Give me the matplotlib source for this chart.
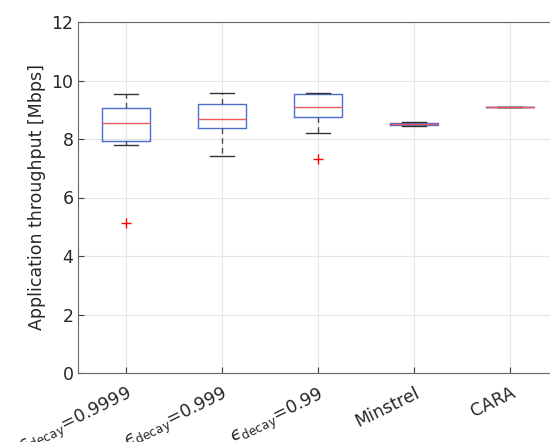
import numpy as np
import matplotlib
matplotlib.use('Agg')
import matplotlib.pyplot as plt
import matplotlib.transforms as mtransforms

plt.rcParams['mathtext.fontset'] = 'dejavusans'

#######################################################
# Box statistics
labels = ['$\u03f5_{\\mathrm{decay}}$=0.9999', '$\u03f5_{\\mathrm{decay}}$=0.999',
          '$\u03f5_{\\mathrm{decay}}$=0.99', 'Minstrel', 'CARA']
whislo = [7.78, 7.42, 8.19, 8.43, 9.09]
q1 = [7.93, 8.37, 8.74, 8.47, 9.09]
med = [8.54, 8.67, 9.08, 8.51, 9.10]
q3 = [9.05, 9.19, 9.54, 8.55, 9.11]
whishi = [9.54, 9.56, 9.56, 8.58, 9.11]
fliers = [[5.14], [], [7.32], [], []]

stats = []
for i in range(len(labels)):
	stats.append(dict(whislo=whislo[i], q1=q1[i], med=med[i], q3=q3[i],
		whishi=whishi[i], fliers=fliers[i], label=labels[i]))

#######################################################
# Plot
fig = plt.figure(figsize=(5.5, 4.42), dpi=100)
ax = fig.add_axes([78.3/550, 1-373/442, (558-78.3)/550, (373-22)/442])

ax.bxp(stats, positions=np.arange(1, 6), widths=0.5, capwidths=0.25,
	boxprops=dict(color=(0.3, 0.43, 0.8), linewidth=1.0),
	medianprops=dict(color=(0.95, 0.35, 0.35), linewidth=1.0),
	whiskerprops=dict(color=(0.3, 0.3, 0.3), linestyle=(0, (4, 3)), linewidth=1.0),
	capprops=dict(color=(0.2, 0.2, 0.2), linewidth=1.0),
	flierprops=dict(marker='+', markeredgecolor='red', markersize=7, linestyle='none'))

ax.set_xlim(0.5, 5.5)
ax.set_ylim(0, 12)
ax.set_yticks(np.arange(0, 13, 2))
ax.set_xticks(np.arange(1, 6))
ax.set_xticklabels(labels, rotation=26, ha='right', va='top', rotation_mode='anchor', fontsize=12.5)
offset = mtransforms.ScaledTranslation(6/100, 0, fig.dpi_scale_trans)
for t in ax.get_xticklabels():
	t.set_transform(t.get_transform() + offset)
ax.tick_params(axis='x', pad=8)
ax.tick_params(axis='y', labelsize=12.5)
ax.tick_params(direction='in', length=4, color=(0.25, 0.25, 0.25), labelcolor=(0.15, 0.15, 0.15))
for s in ax.spines.values():
	s.set_color((0.4, 0.4, 0.4))
ax.grid(True, color=(0.9, 0.9, 0.9), linewidth=0.8)
ax.set_axisbelow(True)
ax.set_ylabel('Application throughput [Mbps]', fontsize=12.5, color=(0.15, 0.15, 0.15))

fig.savefig('out.png', dpi=100)
